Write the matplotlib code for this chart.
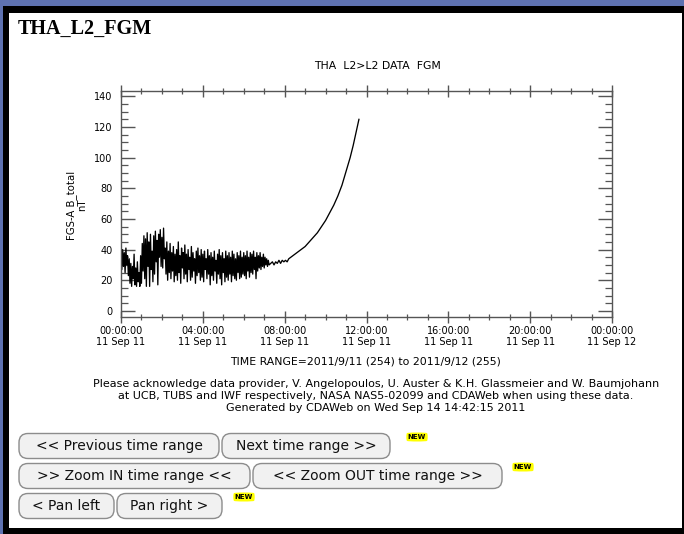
import numpy as np
import matplotlib
matplotlib.use("Agg")
import matplotlib.pyplot as plt
from matplotlib.patches import Rectangle, FancyBboxPatch

# ── Data: THA FGS-A |B| (nT), 2011-09-11, hours since 00:00 UT ──────────────
# noisy interval sampled at a fixed cadence
NOISY_T0 = 0.0
NOISY_DT = 0.04
NOISY_B = [
    36, 27, 40, 29, 38, 25, 41, 30, 36, 23,
    34, 18, 31, 16, 29, 21, 37, 17, 28, 16,
    32, 19, 25, 16, 36, 18, 44, 26, 49, 21,
    47, 16, 51, 29, 45, 16, 50, 27, 39, 19,
    49, 24, 52, 32, 46, 17, 50, 35, 53, 29,
    48, 28, 54, 34, 41, 24, 45, 20, 39, 25,
    44, 21, 38, 26, 42, 19, 37, 23, 40, 20,
    45, 25, 36, 18, 41, 28, 38, 21, 43, 24,
    37, 19, 40, 27, 35, 20, 42, 22, 38, 26,
    34, 18, 39, 23, 41, 25, 36, 20, 40, 22,
    37, 19, 39, 27, 34, 21, 40, 24, 36, 17,
    38, 23, 35, 20, 39, 26, 33, 18, 37, 24,
    40, 21, 36, 17, 38, 25, 34, 19, 39, 22,
    36, 20, 38, 24, 35, 19, 39, 23, 37, 21,
    34, 20, 38, 25, 36, 21, 39, 22, 35, 24,
    38, 23, 36, 21, 39, 26, 35, 22, 38, 25,
    37, 24, 39, 27, 35, 21, 38, 26, 36, 28,
    38, 27, 35, 29, 37, 28, 35, 30, 34, 29,
    33, 30,
]

# inbound leg, field rising towards perigee
INBOUND_T = [7.32, 7.40, 7.48, 7.56, 7.64, 7.72, 7.80, 7.88, 7.96, 8.04,
             8.12, 8.20, 8.30, 8.40, 8.50, 8.60, 8.70, 8.80, 8.90, 9.00,
             9.20, 9.40, 9.60, 9.80, 10.00, 10.20, 10.40, 10.60, 10.80,
             11.00, 11.20, 11.35, 11.50, 11.63]
INBOUND_B = [31, 32, 30, 32, 31, 33, 31, 33, 32, 33,
             32, 34, 35, 36, 37, 38, 39, 40, 41, 42,
             45, 48, 51, 55, 59, 64, 69, 75, 82,
             91, 100, 108, 117, 125]

TICK_HOURS = [0, 4, 8, 12, 16, 20, 24]
TICK_LABELS = ["00:00:00\n11 Sep 11", "04:00:00\n11 Sep 11",
               "08:00:00\n11 Sep 11", "12:00:00\n11 Sep 11",
               "16:00:00\n11 Sep 11", "20:00:00\n11 Sep 11",
               "00:00:00\n11 Sep 12"]

W, H = 684, 534
BLUE = "#5e72b1"
AXC = "#555555"
FONT = "DejaVu Sans"

fig = plt.figure(figsize=(W / 100, H / 100), dpi=100, facecolor=BLUE)

# page layer in pixel coordinates
page = fig.add_axes([0, 0, 1, 1], zorder=0)
page.set_xlim(0, W)
page.set_ylim(H, 0)
page.axis("off")
page.add_patch(Rectangle((3, 6), W - 3, H - 6, facecolor="black", edgecolor="none"))
page.add_patch(Rectangle((9, 13), 673, 515, facecolor="white", edgecolor="none"))

page.text(18, 29, "THA_L2_FGM", family="Liberation Serif", fontweight="bold",
          fontsize=14.5, ha="left", va="center")

page.text(377, 66, "THA  L2>L2 DATA  FGM", family=FONT, fontsize=7.8,
          ha="center", va="center")
page.text(77, 205, "FGS-A B_total\nnT", family=FONT, fontsize=7.3, rotation=90,
          ha="center", va="center", linespacing=1.0, multialignment="center")
page.text(365, 362, "TIME RANGE=2011/9/11 (254) to 2011/9/12 (255)",
          family=FONT, fontsize=7.8, ha="center", va="center")
ack = ["Please acknowledge data provider, V. Angelopoulos, U. Auster & K.H. Glassmeier and W. Baumjohann",
       "at UCB, TUBS and IWF respectively, NASA NAS5-02099 and CDAWeb when using these data.",
       "Generated by CDAWeb on Wed Sep 14 14:42:15 2011"]
for i, line in enumerate(ack):
    page.text(376, 384 + 12 * i, line, family=FONT, fontsize=8,
              ha="center", va="center")

# navigation buttons
buttons = [
    (19, 219, 446, "<< Previous time range"),
    (222, 390, 446, "Next time range >>"),
    (19, 250, 476, ">> Zoom IN time range <<"),
    (253, 502, 476, "<< Zoom OUT time range >>"),
    (19, 114, 506, "< Pan left"),
    (117, 222, 506, "Pan right >"),
]
for x0, x1, yc, label in buttons:
    page.add_patch(FancyBboxPatch((x0 + 5, yc - 7.5), x1 - x0 - 10, 15,
                                  boxstyle="round,pad=5,rounding_size=9",
                                  facecolor="#f1f1f1", edgecolor="#8c8c8c",
                                  linewidth=1.0))
    page.text((x0 + x1) / 2, yc, label, family=FONT, fontsize=10,
              ha="center", va="center", color="#111111")
for xc, yc in [(417, 437), (523, 467), (244, 497)]:
    page.text(xc, yc, "NEW", family=FONT, fontsize=5, fontweight="bold",
              ha="center", va="center",
              bbox=dict(boxstyle="round4,pad=0.25", facecolor="#ffff00",
                        edgecolor="none"))

# ── Plot panel ───────────────────────────────────────────────────────────────
ax = fig.add_axes([121 / W, 1 - 317 / H, 491 / W, 226 / H], zorder=2)
ax.set_facecolor("white")

t_noisy = NOISY_T0 + NOISY_DT * np.arange(len(NOISY_B))
t = np.concatenate([t_noisy, INBOUND_T])
b = np.concatenate([NOISY_B, INBOUND_B])
ax.plot(t, b, color="black", linewidth=0.95)

ax.set_xlim(0, 24)
ax.set_ylim(-4, 143.5)
ax.set_xticks(TICK_HOURS)
ax.set_xticklabels(TICK_LABELS)
ax.set_xticks(np.arange(0, 25, 1), minor=True)
ax.set_yticks(np.arange(0, 141, 20))
ax.set_yticks(np.arange(0, 141, 5), minor=True)

for s in ax.spines.values():
    s.set_color(AXC)
    s.set_linewidth(1.0)

ax.tick_params(axis="x", which="major", direction="inout", length=9,
               width=1.0, color=AXC, top=True, labelsize=7, pad=2)
ax.tick_params(axis="x", which="minor", direction="inout", length=5,
               width=0.9, color=AXC, top=True)
ax.tick_params(axis="y", which="major", direction="in", length=10,
               width=1.0, color=AXC, right=True, labelsize=7, pad=6)
ax.tick_params(axis="y", which="minor", direction="in", length=5,
               width=0.9, color=AXC, right=True)
for lab in ax.get_xticklabels() + ax.get_yticklabels():
    lab.set_family(FONT)
for lab in ax.get_xticklabels():
    lab.set_linespacing(1.15)

fig.savefig("out.png", dpi=100, facecolor=BLUE)
